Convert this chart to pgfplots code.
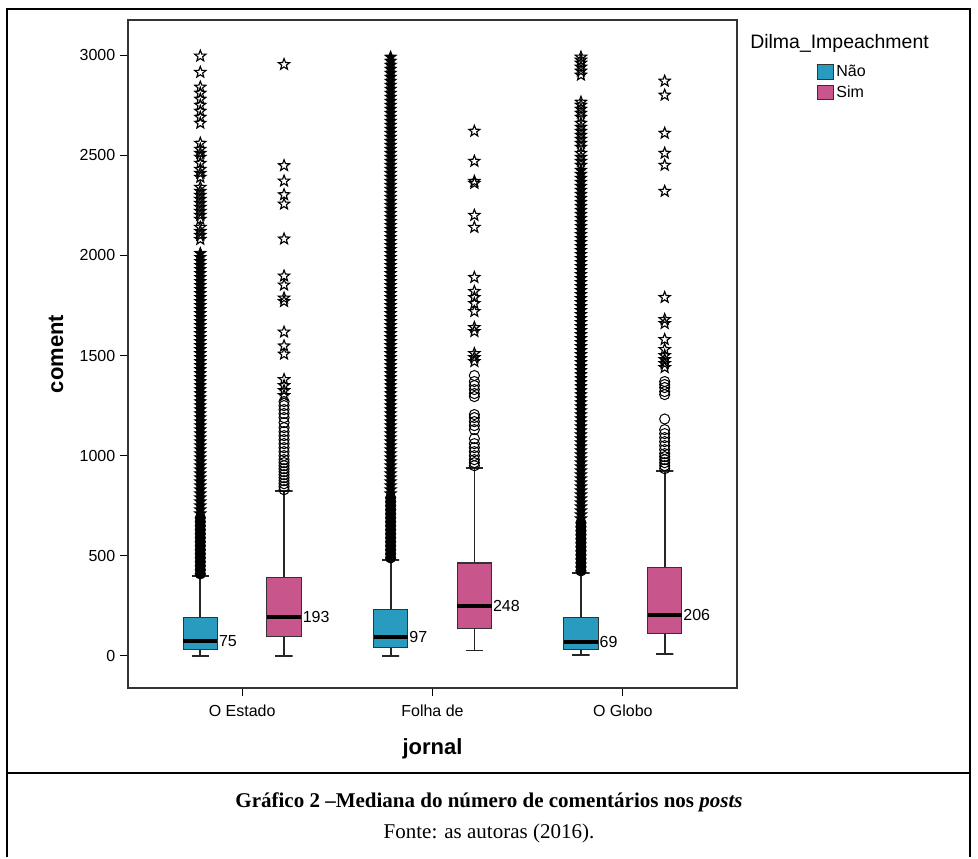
\documentclass[border=0pt]{standalone}
\usepackage{pgfplots}
\pgfplotsset{compat=1.18}
\usepackage{fontspec}
\setmainfont{Liberation Sans}
\newfontfamily\capfont{Liberation Serif}
\definecolor{nao}{RGB}{40,155,190}
\definecolor{sim}{RGB}{200,85,140}
\pgfdeclareplotmark{ostar}{%
\pgfpathmoveto{\pgfqpoint{0pt}{\pgfplotmarksize}}%
\pgfpathlineto{\pgfqpoint{-0.247\pgfplotmarksize}{0.340\pgfplotmarksize}}%
\pgfpathlineto{\pgfqpoint{-0.951\pgfplotmarksize}{0.309\pgfplotmarksize}}%
\pgfpathlineto{\pgfqpoint{-0.399\pgfplotmarksize}{-0.130\pgfplotmarksize}}%
\pgfpathlineto{\pgfqpoint{-0.588\pgfplotmarksize}{-0.809\pgfplotmarksize}}%
\pgfpathlineto{\pgfqpoint{0pt}{-0.42\pgfplotmarksize}}%
\pgfpathlineto{\pgfqpoint{0.588\pgfplotmarksize}{-0.809\pgfplotmarksize}}%
\pgfpathlineto{\pgfqpoint{0.399\pgfplotmarksize}{-0.130\pgfplotmarksize}}%
\pgfpathlineto{\pgfqpoint{0.951\pgfplotmarksize}{0.309\pgfplotmarksize}}%
\pgfpathlineto{\pgfqpoint{0.247\pgfplotmarksize}{0.340\pgfplotmarksize}}%
\pgfpathclose\pgfusepathqstroke}
\pgfdeclareplotmark{fstar}{%
\pgfpathmoveto{\pgfqpoint{0pt}{\pgfplotmarksize}}%
\pgfpathlineto{\pgfqpoint{-0.247\pgfplotmarksize}{0.340\pgfplotmarksize}}%
\pgfpathlineto{\pgfqpoint{-0.951\pgfplotmarksize}{0.309\pgfplotmarksize}}%
\pgfpathlineto{\pgfqpoint{-0.399\pgfplotmarksize}{-0.130\pgfplotmarksize}}%
\pgfpathlineto{\pgfqpoint{-0.588\pgfplotmarksize}{-0.809\pgfplotmarksize}}%
\pgfpathlineto{\pgfqpoint{0pt}{-0.42\pgfplotmarksize}}%
\pgfpathlineto{\pgfqpoint{0.588\pgfplotmarksize}{-0.809\pgfplotmarksize}}%
\pgfpathlineto{\pgfqpoint{0.399\pgfplotmarksize}{-0.130\pgfplotmarksize}}%
\pgfpathlineto{\pgfqpoint{0.951\pgfplotmarksize}{0.309\pgfplotmarksize}}%
\pgfpathlineto{\pgfqpoint{0.247\pgfplotmarksize}{0.340\pgfplotmarksize}}%
\pgfpathclose\pgfusepathqfillstroke}
\pgfplotsset{
  myBoxN/.style={fill=nao, draw=black!80, line width=0.8pt, forget plot},
  myBoxS/.style={fill=sim, draw=black!80, line width=0.8pt, forget plot},
  myMed/.style={draw=black, line width=3pt, forget plot},
  myWh/.style={draw=black!85, line width=1.3pt, forget plot},
  myDense/.style={only marks, mark=fstar, mark size=4.6pt, mark options={line width=0.6pt, draw=black, fill=black}, forget plot},
  myDenseCirc/.style={only marks, mark=*, mark size=3.9pt, mark options={line width=0.6pt, draw=black, fill=black}, forget plot},
  mySparse/.style={only marks, mark=ostar, mark size=4.4pt, mark options={line width=0.85pt, draw=black}, forget plot},
  myCirc/.style={only marks, mark=o, mark size=3.8pt, mark options={line width=0.75pt, draw=black}, forget plot},
}
\begin{document}
\begin{tikzpicture}
\draw[line width=1.5pt] (5.25pt,-642.75pt) -- (5.25pt,-6.5pt) -- (727.5pt,-6.5pt) -- (727.5pt,-642.75pt);
\draw[line width=1.5pt] (5.25pt,-579.75pt) -- (727.5pt,-579.75pt);
\path (0pt,0pt) (733.5pt,-642.75pt);
\begin{axis}[
  at={(96pt,-15pt)}, anchor=north west,
  scale only axis, width=456.75pt, height=501pt,
  xmin=-0.6, xmax=2.6, ymin=-160, ymax=3175,
  xtick={0,1,2}, xticklabels={O Estado, Folha de, O Globo},
  ytick={0,500,1000,1500,2000,2500,3000},
  xtick pos=bottom, ytick pos=left,
  tick align=outside, major tick length=6pt,
  axis line style={black!80, line width=0.8pt},
  tick style={black, line width=0.8pt},
  /pgf/number format/assume math mode=true,
  /pgf/number format/1000 sep={},
  tick label style={font=\fontsize{12}{14}\selectfont},
  xticklabel style={yshift=-3pt},
  xlabel={jornal}, ylabel={coment},
  xlabel style={at={(axis description cs:0.5,-0.0988)}, anchor=base, font=\bfseries\fontsize{16.5}{18}\selectfont},
  ylabel style={at={(axis description cs:-0.1067,0.5)}, anchor=base, font=\bfseries\fontsize{16.5}{18}\selectfont},
  legend style={at={(axis description cs:1.124,0.941)}, anchor=north west, draw=none, fill=none, row sep=1.5pt, font=\fontsize{12}{14}\selectfont},
  legend cell align=left,
  legend image code/.code={\draw[#1] (0pt,-5.5pt) rectangle (12pt,5.5pt);},
]
% ---- O Estado, Nao (x=-0.22)
\addplot[myWh] coordinates {(-0.265,400) (-0.175,400) (-0.22,400) (-0.22,192)};
\addplot[myWh] coordinates {(-0.265,0) (-0.175,0) (-0.22,0) (-0.22,30)};
\addplot[myBoxN] coordinates {(-0.31,30) (-0.13,30) (-0.13,192) (-0.31,192)} --cycle;
\addplot[myMed] coordinates {(-0.31,75) (-0.13,75)};
% ---- O Estado, Sim (x=0.22)
\addplot[myWh] coordinates {(0.175,824) (0.265,824) (0.22,824) (0.22,391)};
\addplot[myWh] coordinates {(0.175,0) (0.265,0) (0.22,0) (0.22,96)};
\addplot[myBoxS] coordinates {(0.13,96) (0.31,96) (0.31,391) (0.13,391)} --cycle;
\addplot[myMed] coordinates {(0.13,193) (0.31,193)};
% ---- Folha, Nao (x=0.78)
\addplot[myWh] coordinates {(0.735,479) (0.825,479) (0.78,479) (0.78,230)};
\addplot[myWh] coordinates {(0.735,0) (0.825,0) (0.78,0) (0.78,42)};
\addplot[myBoxN] coordinates {(0.69,42) (0.87,42) (0.87,230) (0.69,230)} --cycle;
\addplot[myMed] coordinates {(0.69,97) (0.87,97)};
% ---- Folha, Sim (x=1.22)
\addplot[myWh] coordinates {(1.175,938) (1.265,938) (1.22,938) (1.22,464)};
\addplot[myWh] coordinates {(1.175,27) (1.265,27) (1.22,27) (1.22,135)};
\addplot[myBoxS] coordinates {(1.13,135) (1.31,135) (1.31,464) (1.13,464)} --cycle;
\addplot[myMed] coordinates {(1.13,248) (1.31,248)};
% ---- O Globo, Nao (x=1.78)
\addplot[myWh] coordinates {(1.735,416) (1.825,416) (1.78,416) (1.78,190)};
\addplot[myWh] coordinates {(1.735,3) (1.825,3) (1.78,3) (1.78,30)};
\addplot[myBoxN] coordinates {(1.69,30) (1.87,30) (1.87,190) (1.69,190)} --cycle;
\addplot[myMed] coordinates {(1.69,69) (1.87,69)};
% ---- O Globo, Sim (x=2.22)
\addplot[myWh] coordinates {(2.175,925) (2.265,925) (2.22,925) (2.22,441)};
\addplot[myWh] coordinates {(2.175,10) (2.265,10) (2.22,10) (2.22,110)};
\addplot[myBoxS] coordinates {(2.13,110) (2.31,110) (2.31,441) (2.13,441)} --cycle;
\addplot[myMed] coordinates {(2.13,206) (2.31,206)};
% O Estado - Nao outliers
\addplot[myDenseCirc] coordinates {(-0.22,410) (-0.22,430) (-0.22,450) (-0.22,470) (-0.22,490) (-0.22,510) (-0.22,530) (-0.22,550) (-0.22,570) (-0.22,590) (-0.22,610) (-0.22,630) (-0.22,650) (-0.22,670) (-0.22,690)};
\addplot[myDense] coordinates {(-0.22,710) (-0.22,730) (-0.22,750) (-0.22,770) (-0.22,790) (-0.22,810) (-0.22,830) (-0.22,850) (-0.22,870) (-0.22,890) (-0.22,910) (-0.22,930) (-0.22,950) (-0.22,970) (-0.22,990) (-0.22,1010) (-0.22,1030) (-0.22,1050) (-0.22,1070) (-0.22,1090) (-0.22,1110) (-0.22,1130) (-0.22,1150) (-0.22,1170) (-0.22,1190) (-0.22,1210) (-0.22,1230) (-0.22,1250) (-0.22,1270) (-0.22,1290) (-0.22,1310) (-0.22,1330) (-0.22,1350) (-0.22,1370) (-0.22,1390) (-0.22,1410) (-0.22,1430) (-0.22,1450) (-0.22,1470) (-0.22,1490) (-0.22,1510) (-0.22,1530) (-0.22,1550) (-0.22,1570) (-0.22,1590) (-0.22,1610) (-0.22,1630) (-0.22,1650) (-0.22,1670) (-0.22,1690) (-0.22,1710) (-0.22,1730) (-0.22,1750) (-0.22,1770) (-0.22,1790) (-0.22,1810) (-0.22,1830) (-0.22,1850) (-0.22,1870) (-0.22,1890) (-0.22,1910) (-0.22,1930) (-0.22,1950) (-0.22,1970) (-0.22,1990) (-0.22,2010)};
\addplot[mySparse] coordinates {(-0.22,2080) (-0.22,2100) (-0.22,2120) (-0.22,2140) (-0.22,2180) (-0.22,2200) (-0.22,2220) (-0.22,2240) (-0.22,2260) (-0.22,2280) (-0.22,2300) (-0.22,2320) (-0.22,2340) (-0.22,2390) (-0.22,2410) (-0.22,2430) (-0.22,2460) (-0.22,2490) (-0.22,2510) (-0.22,2530) (-0.22,2560) (-0.22,2660) (-0.22,2690) (-0.22,2720) (-0.22,2750) (-0.22,2780) (-0.22,2810) (-0.22,2840) (-0.22,2914) (-0.22,2995)};
% O Estado - Sim outliers
\addplot[myCirc] coordinates {(0.22,830) (0.22,845) (0.22,860) (0.22,875) (0.22,890) (0.22,905) (0.22,920) (0.22,935) (0.22,950) (0.22,965) (0.22,980) (0.22,1000) (0.22,1020) (0.22,1040) (0.22,1060) (0.22,1080) (0.22,1100) (0.22,1120) (0.22,1140) (0.22,1165) (0.22,1190) (0.22,1210) (0.22,1230) (0.22,1250) (0.22,1270)};
\addplot[mySparse] coordinates {(0.22,1300) (0.22,1325) (0.22,1350) (0.22,1380) (0.22,1507) (0.22,1548) (0.22,1617) (0.22,1770) (0.22,1787) (0.22,1852) (0.22,1897) (0.22,2082) (0.22,2256) (0.22,2303) (0.22,2371) (0.22,2448) (0.22,2953)};
% Folha - Nao outliers
\addplot[myDenseCirc] coordinates {(0.78,490) (0.78,510) (0.78,530) (0.78,550) (0.78,570) (0.78,590) (0.78,610) (0.78,630) (0.78,650) (0.78,670) (0.78,690) (0.78,710) (0.78,730) (0.78,750) (0.78,770) (0.78,790)};
\addplot[myDense] coordinates {(0.78,810) (0.78,830) (0.78,850) (0.78,870) (0.78,890) (0.78,910) (0.78,930) (0.78,950) (0.78,970) (0.78,990) (0.78,1010) (0.78,1030) (0.78,1050) (0.78,1070) (0.78,1090) (0.78,1110) (0.78,1130) (0.78,1150) (0.78,1170) (0.78,1190) (0.78,1210) (0.78,1230) (0.78,1250) (0.78,1270) (0.78,1290) (0.78,1310) (0.78,1330) (0.78,1350) (0.78,1370) (0.78,1390) (0.78,1410) (0.78,1430) (0.78,1450) (0.78,1470) (0.78,1490) (0.78,1510) (0.78,1530) (0.78,1550) (0.78,1570) (0.78,1590) (0.78,1610) (0.78,1630) (0.78,1650) (0.78,1670) (0.78,1690) (0.78,1710) (0.78,1730) (0.78,1750) (0.78,1770) (0.78,1790) (0.78,1810) (0.78,1830) (0.78,1850) (0.78,1870) (0.78,1890) (0.78,1910) (0.78,1930) (0.78,1950) (0.78,1970) (0.78,1990) (0.78,2010) (0.78,2030) (0.78,2050) (0.78,2070) (0.78,2090) (0.78,2110) (0.78,2130) (0.78,2150) (0.78,2170) (0.78,2190) (0.78,2210) (0.78,2230) (0.78,2250) (0.78,2270) (0.78,2290) (0.78,2310) (0.78,2330) (0.78,2350) (0.78,2370) (0.78,2390) (0.78,2410) (0.78,2430) (0.78,2450) (0.78,2470) (0.78,2490) (0.78,2510) (0.78,2530) (0.78,2550) (0.78,2570) (0.78,2590) (0.78,2610) (0.78,2630) (0.78,2650) (0.78,2670) (0.78,2690) (0.78,2710) (0.78,2730) (0.78,2750) (0.78,2770) (0.78,2790) (0.78,2810) (0.78,2830) (0.78,2850) (0.78,2870) (0.78,2890) (0.78,2910) (0.78,2930) (0.78,2950) (0.78,2970) (0.78,2990)};
% Folha - Sim outliers
\addplot[myCirc] coordinates {(1.22,950) (1.22,965) (1.22,980) (1.22,1000) (1.22,1020) (1.22,1040) (1.22,1060) (1.22,1085) (1.22,1130) (1.22,1150) (1.22,1170) (1.22,1190) (1.22,1205) (1.22,1295) (1.22,1310) (1.22,1330) (1.22,1350) (1.22,1370) (1.22,1400)};
\addplot[mySparse] coordinates {(1.22,1470) (1.22,1490) (1.22,1510) (1.22,1620) (1.22,1640) (1.22,1720) (1.22,1760) (1.22,1790) (1.22,1820) (1.22,1890) (1.22,2140) (1.22,2200) (1.22,2360) (1.22,2370) (1.22,2470) (1.22,2620)};
% O Globo - Nao outliers
\addplot[myDenseCirc] coordinates {(1.78,425) (1.78,445) (1.78,465) (1.78,485) (1.78,505) (1.78,525) (1.78,545) (1.78,565) (1.78,585) (1.78,605) (1.78,625) (1.78,645) (1.78,665)};
\addplot[myDense] coordinates {(1.78,685) (1.78,705) (1.78,725) (1.78,745) (1.78,765) (1.78,785) (1.78,805) (1.78,825) (1.78,845) (1.78,865) (1.78,885) (1.78,905) (1.78,925) (1.78,945) (1.78,965) (1.78,985) (1.78,1005) (1.78,1025) (1.78,1045) (1.78,1065) (1.78,1085) (1.78,1105) (1.78,1125) (1.78,1145) (1.78,1165) (1.78,1185) (1.78,1205) (1.78,1225) (1.78,1245) (1.78,1265) (1.78,1285) (1.78,1305) (1.78,1325) (1.78,1345) (1.78,1365) (1.78,1385) (1.78,1405) (1.78,1425) (1.78,1445) (1.78,1465) (1.78,1485) (1.78,1505) (1.78,1525) (1.78,1545) (1.78,1565) (1.78,1585) (1.78,1605) (1.78,1625) (1.78,1645) (1.78,1665) (1.78,1685) (1.78,1705) (1.78,1725) (1.78,1745) (1.78,1765) (1.78,1785) (1.78,1805) (1.78,1825) (1.78,1845) (1.78,1865) (1.78,1885) (1.78,1905) (1.78,1925) (1.78,1945) (1.78,1965) (1.78,1985) (1.78,2005) (1.78,2025) (1.78,2045) (1.78,2065) (1.78,2085) (1.78,2105) (1.78,2125) (1.78,2145) (1.78,2165) (1.78,2185) (1.78,2205) (1.78,2225) (1.78,2245) (1.78,2265) (1.78,2285) (1.78,2305) (1.78,2325) (1.78,2345) (1.78,2365) (1.78,2385) (1.78,2405) (1.78,2425)};
\addplot[mySparse] coordinates {(1.78,2450) (1.78,2470) (1.78,2490) (1.78,2510) (1.78,2540) (1.78,2560) (1.78,2580) (1.78,2600) (1.78,2620) (1.78,2640) (1.78,2660) (1.78,2690) (1.78,2710) (1.78,2730) (1.78,2750) (1.78,2765) (1.78,2900) (1.78,2920) (1.78,2940) (1.78,2960) (1.78,2975) (1.78,2990)};
% O Globo - Sim outliers
\addplot[myCirc] coordinates {(2.22,935) (2.22,950) (2.22,965) (2.22,980) (2.22,995) (2.22,1010) (2.22,1030) (2.22,1050) (2.22,1070) (2.22,1090) (2.22,1110) (2.22,1130) (2.22,1183) (2.22,1305) (2.22,1320) (2.22,1340) (2.22,1355) (2.22,1370)};
\addplot[mySparse] coordinates {(2.22,1440) (2.22,1460) (2.22,1480) (2.22,1500) (2.22,1530) (2.22,1580) (2.22,1660) (2.22,1680) (2.22,1790) (2.22,2320) (2.22,2450) (2.22,2510) (2.22,2610) (2.22,2800) (2.22,2870)};
% median labels
\node[anchor=west, inner sep=1pt, font=\fontsize{12}{14}\selectfont] at (axis cs:-0.13,75) {75};
\node[anchor=west, inner sep=1pt, font=\fontsize{12}{14}\selectfont] at (axis cs:0.31,193) {193};
\node[anchor=west, inner sep=1pt, font=\fontsize{12}{14}\selectfont] at (axis cs:0.87,97) {97};
\node[anchor=west, inner sep=1pt, font=\fontsize{12}{14}\selectfont] at (axis cs:1.31,248) {248};
\node[anchor=west, inner sep=1pt, font=\fontsize{12}{14}\selectfont] at (axis cs:1.87,69) {69};
\node[anchor=west, inner sep=1pt, font=\fontsize{12}{14}\selectfont] at (axis cs:2.31,206) {206};
% legend
\addlegendimage{fill=nao, draw=black!80, line width=0.7pt}
\addlegendentry{Não}
\addlegendimage{fill=sim, draw=black!80, line width=0.7pt}
\addlegendentry{Sim}
\end{axis}
\node[anchor=base west, font=\fontsize{14.6}{16}\selectfont, inner sep=0pt] at (562.5pt,-36pt) {Dilma\_Impeachment};
\node[anchor=base, font=\capfont\bfseries\fontsize{15.75}{18}\selectfont, inner sep=0pt] at (366.75pt,-605.25pt) {Gráfico 2 –Mediana do número de comentários nos \textit{posts}};
\node[anchor=base, font=\capfont\fontsize{15.75}{18}\selectfont, inner sep=0pt] at (366.75pt,-628.5pt) {Fonte: as autoras (2016).};
\end{tikzpicture}
\end{document}
